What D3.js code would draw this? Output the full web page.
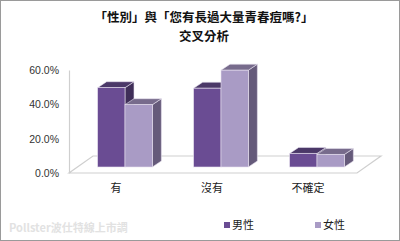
<!DOCTYPE html>
<html>
<head>
<meta charset="utf-8">
<script src="https://cdn.jsdelivr.net/npm/d3@7"></script>
<style>
  body { margin: 0; background: #fff; }
  svg { display: block; }
</style>
</head>
<body>
<script>
var categories = ['有', '沒有', '不確定'];
var seriesNames = ['男性', '女性'];
var maleValues = [46.2, 45.9, 7.9];
var femaleValues = [36.3, 56.4, 7.3];
var yTicks = [0, 20, 40, 60];

var width = 400;
var height = 241;

// colours per series: front, top, side
var colors = [
    { front: '#6a4c93', top: '#4b3868', side: '#3f2e58' },
    { front: '#a99bc5', top: '#776b8c', side: '#655a7a' }
];

var floorDx = 24, floorDy = -17;   // depth of the floor
var barShiftX = 8, barShiftY = -6; // bars sit a bit back on the floor
var barDx = 9, barDy = -6;         // depth of each bar

var svg = d3.select('body').append('svg')
    .attr('width', width)
    .attr('height', height);

svg.append('rect')
    .attr('x', 0.5).attr('y', 0.5)
    .attr('width', width - 1).attr('height', height - 1)
    .attr('fill', '#fff')
    .attr('stroke', '#9a9a9a');

// title, two lines
svg.append('g').selectAll('text')
    .data(['「性別」與「您有長過大量青春痘嗎?」', '交叉分析'])
    .join('text')
    .attr('x', 204)
    .attr('y', function(d, i) { return 22 + i * 18.5; })
    .attr('text-anchor', 'middle')
    .attr('font-family', '"Noto Sans CJK TC", sans-serif')
    .attr('font-weight', 'bold')
    .attr('font-size', 12.5)
    .attr('fill', '#111')
    .text(function(d) { return d; });

var x0 = d3.scaleBand()
    .domain(categories)
    .range([69, 357])
    .paddingInner(0.43)
    .paddingOuter(0.215);

var x1 = d3.scaleBand()
    .domain(seriesNames)
    .range([0, x0.bandwidth()]);

var y = d3.scaleLinear()
    .domain([0, 60])
    .range([173, 70]);

// floor
var fl = 69, fr = 357, fy = y(0);
svg.append('path')
    .attr('d', 'M' + fl + ',' + fy + 'L' + fr + ',' + fy +
        'L' + (fr + floorDx) + ',' + (fy + floorDy) +
        'L' + (fl + floorDx) + ',' + (fy + floorDy) + 'Z')
    .attr('fill', '#fff')
    .attr('stroke', '#cfcfcf')
    .attr('stroke-width', 1.2);

// y axis
var yAxis = d3.axisLeft(y)
    .tickValues(yTicks)
    .tickSize(0)
    .tickPadding(10)
    .tickFormat(function(d) { return d.toFixed(1) + '%'; });

var yg = svg.append('g')
    .attr('transform', 'translate(69,0)')
    .call(yAxis);
yg.select('.domain').attr('stroke', '#cfcfcf').attr('stroke-width', 1.2);
yg.selectAll('text')
    .attr('font-family', '"Liberation Sans", Arial, sans-serif')
    .attr('font-size', 10.5)
    .attr('fill', '#333');

// bars
var data = [maleValues, femaleValues];
var barsG = svg.append('g');
categories.forEach(function(cat, ci) {
    data.forEach(function(vals, si) {
        var v = vals[ci];
        var bx = x0(cat) + x1(seriesNames[si]) + barShiftX;
        var bw = x1.bandwidth();
        var by = y(v) + barShiftY;
        var bb = y(0) + barShiftY;
        var g = barsG.append('g');
        g.append('path')
            .attr('d', 'M' + (bx + bw) + ',' + by + 'L' + (bx + bw + barDx) + ',' + (by + barDy) +
                'L' + (bx + bw + barDx) + ',' + (bb + barDy) + 'L' + (bx + bw) + ',' + bb + 'Z')
            .attr('fill', colors[si].side)
            .attr('stroke', '#e6e0ee').attr('stroke-width', 0.6);
        g.append('path')
            .attr('d', 'M' + bx + ',' + by + 'L' + (bx + barDx) + ',' + (by + barDy) +
                'L' + (bx + bw + barDx) + ',' + (by + barDy) + 'L' + (bx + bw) + ',' + by + 'Z')
            .attr('fill', colors[si].top)
            .attr('stroke', '#e6e0ee').attr('stroke-width', 0.6);
        g.append('rect')
            .attr('x', bx).attr('y', by)
            .attr('width', bw).attr('height', bb - by)
            .attr('fill', colors[si].front)
            .attr('stroke', '#e6e0ee').attr('stroke-width', 0.6);
    });
});

// category labels
svg.append('g').selectAll('text')
    .data(categories)
    .join('text')
    .attr('x', function(d) { return x0(d) + x0.bandwidth() / 2 - 1; })
    .attr('y', 192)
    .attr('text-anchor', 'middle')
    .attr('font-family', '"Noto Sans CJK TC", sans-serif')
    .attr('font-size', 11)
    .attr('fill', '#222')
    .text(function(d) { return d; });

// legend
var legendX = [224, 315];
var legend = svg.append('g').selectAll('g')
    .data(seriesNames)
    .join('g')
    .attr('transform', function(d, i) { return 'translate(' + legendX[i] + ',225)'; });
legend.append('rect')
    .attr('x', 0).attr('y', -3)
    .attr('width', 6).attr('height', 6)
    .attr('fill', function(d, i) { return colors[i].front; });
legend.append('text')
    .attr('x', 8).attr('y', 4)
    .attr('font-family', '"Noto Sans CJK TC", sans-serif')
    .attr('font-size', 11)
    .attr('fill', '#222')
    .text(function(d) { return d; });

// watermark
svg.append('text')
    .attr('x', 9).attr('y', 232)
    .attr('font-family', '"Noto Sans CJK TC", sans-serif')
    .attr('font-weight', 'bold')
    .attr('font-size', 11)
    .attr('fill', '#e2e2e2')
    .text('Pollster波仕特線上市調');
</script>
</body>
</html>
